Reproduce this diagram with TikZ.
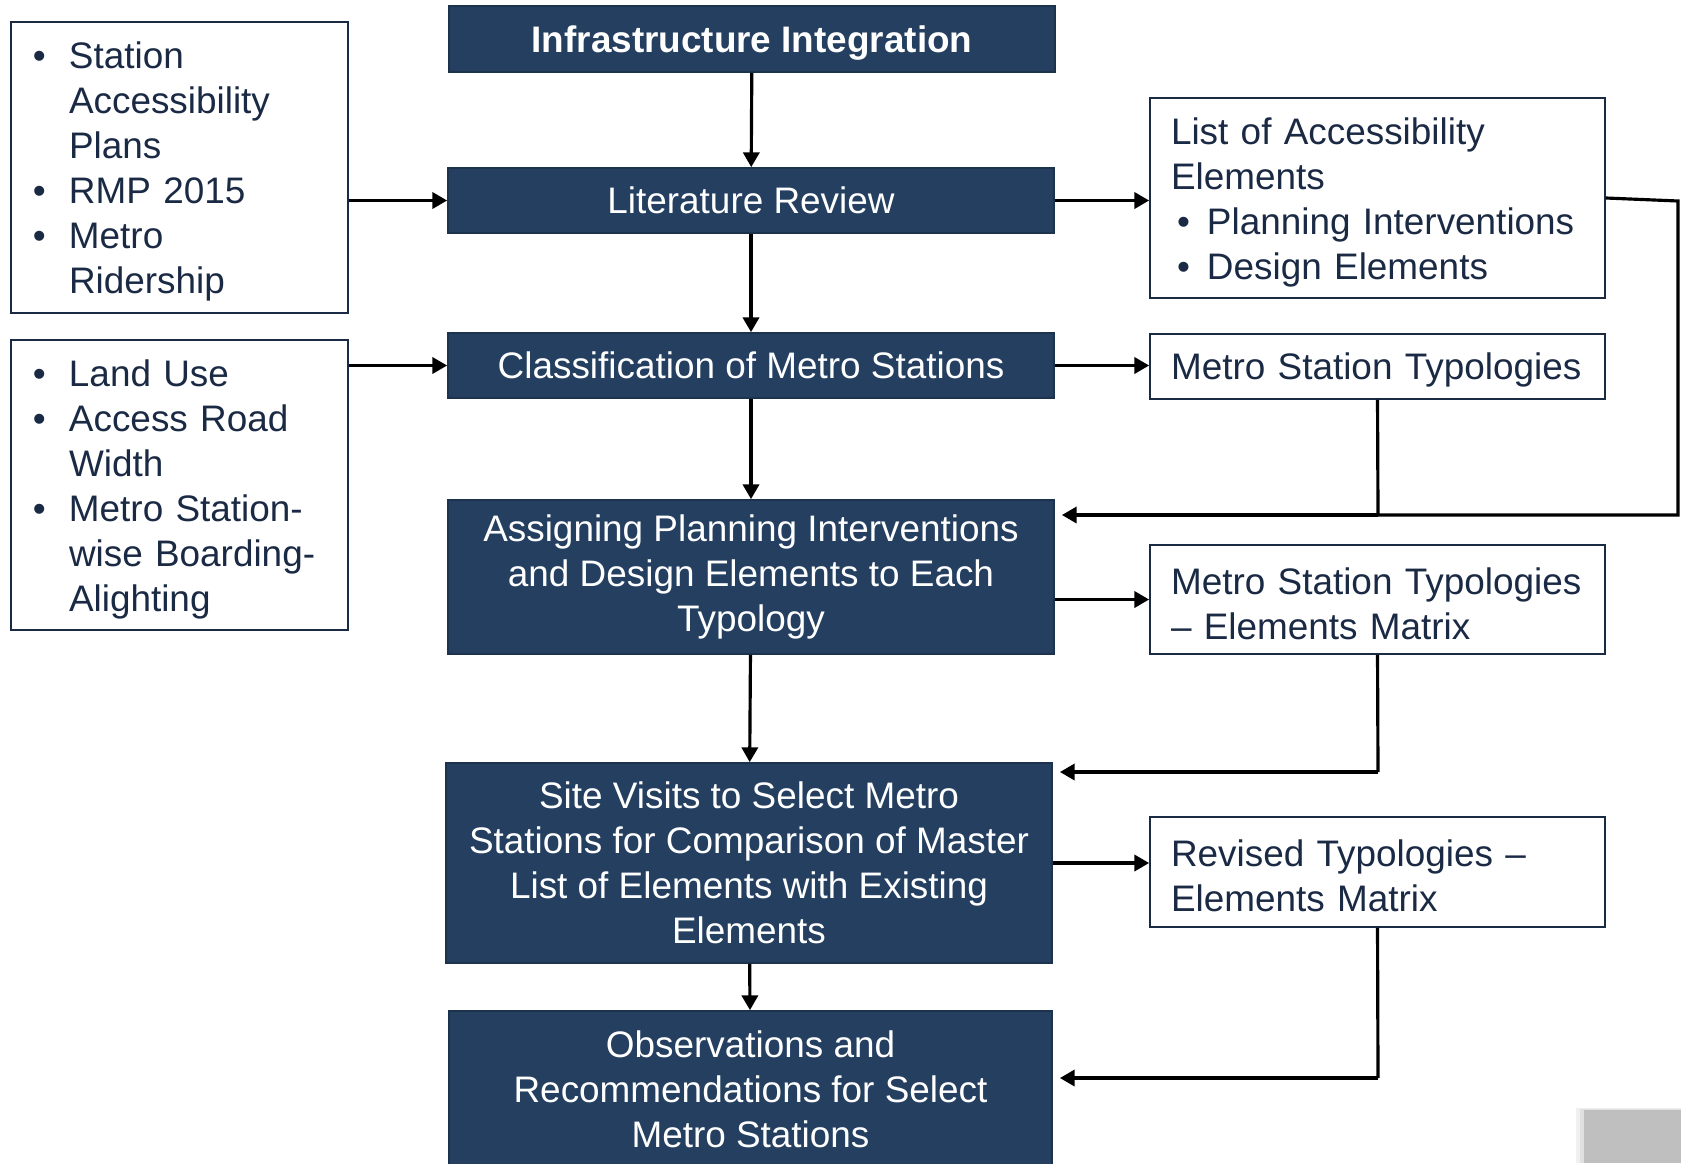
\documentclass[tikz,border=0pt]{standalone}
\usepackage{fontspec}
\setmainfont{Liberation Sans}
\usetikzlibrary{arrows.meta}
\definecolor{boxblue}{HTML}{243F60}
\definecolor{navytext}{HTML}{1B2A44}
\newcommand{\bl}{\makebox[0.36cm][l]{\textbullet}}
\newcommand{\ind}{\hspace*{0.36cm}}
\begin{document}
\begin{tikzpicture}
        \tikzset{
            proc/.style={rectangle, minimum width=6.06cm, fill=boxblue, draw=boxblue!80!black, line width=0.5pt,
                text=white, align=center, inner sep=0pt, font=\fontsize{10.5}{12.8}\selectfont},
            src/.style={rectangle, minimum width=3.37cm, text width=3.37cm-0.44cm, inner xsep=0.22cm,
                draw=navytext, line width=0.5pt, text=navytext, align=left, font=\fontsize{10.5}{12.8}\selectfont,
                execute at end node={\par\vspace*{-0.08cm}}},
            res/.style={rectangle, minimum width=4.55cm, text width=4.55cm-0.42cm, inner xsep=0.21cm,
                draw=navytext, line width=0.5pt, text=navytext, align=left, font=\fontsize{10.5}{12.8}\selectfont,
                execute at end node={\par\vspace*{-0.08cm}}},
            c1/.style={-{Triangle[length=4.2pt,width=4.6pt]}, line width=0.9pt},
            c2/.style={-, line width=0.9pt}
            }
            \useasboundingbox (0,0) rectangle (16.81,-11.63);

            % middle column
            \node[proc, minimum height=0.66cm, font=\fontsize{10.5}{12.8}\selectfont\bfseries,
                text height=0.95em, text depth=0.21em] (p1) at (7.52,-0.39) {Infrastructure Integration};
            \node[proc, minimum height=0.65cm] (p2) at (7.51,-2.005) {Literature Review};
            \node[proc, minimum height=0.65cm] (p3) at (7.51,-3.655) {Classification of Metro Stations};
            \node[proc, minimum height=1.54cm] (p4) at (7.51,-5.77) {Assigning Planning Interventions\\and Design Elements to Each\\Typology};
            \node[proc, minimum height=2.00cm] (p5) at (7.49,-8.63) {Site Visits to Select Metro\\Stations for Comparison of Master\\List of Elements with Existing\\Elements};
            \node[proc, minimum width=6.03cm, minimum height=1.56cm] (p6) at (7.505,-10.89) {Observations and\\Recommendations for Select\\Metro Stations};

            % left column
            \node[src, minimum height=2.91cm] (s1) at (1.795,-1.675) {\bl Station\\\ind Accessibility\\\ind Plans\\\bl RMP 2015\\\bl Metro\\\ind Ridership};
            \node[src, minimum height=2.90cm] (s2) at (1.795,-4.85) {\bl Land Use\\\bl Access Road\\\ind Width\\\bl Metro Station-\\\ind wise Boarding-\\\ind Alighting};

            % right column
            \node[res, minimum height=2.00cm] (r1) at (13.775,-1.98) {List of Accessibility\\Elements\\\hspace*{0.06cm}\makebox[0.30cm][l]{\textbullet}Planning Interventions\\\hspace*{0.06cm}\makebox[0.30cm][l]{\textbullet}Design Elements};
            \node[res, minimum height=0.65cm] (r2) at (13.775,-3.665) {Metro Station Typologies};
            \node[res, minimum height=1.09cm] (r3) at (13.775,-5.995) {Metro Station Typologies\\-- Elements Matrix};
            \node[res, minimum height=1.10cm] (r4) at (13.775,-8.72) {Revised Typologies --\\Elements Matrix};

            \coordinate (k1) at (16.78,-2.01);
            \coordinate (k2) at (16.78,-5.15);
            \coordinate (k3) at (13.78,-5.15);
            \coordinate (k4) at (13.78,-7.72);
            \coordinate (k5) at (13.78,-10.78);

            \draw[c1] (p1) -- (p2);
            \draw[c1] (p2) -- (p3);
            \draw[c1] (p3) -- (p4);
            \draw[c1] (p4) -- (p5);
            \draw[c1] (p5) -- (p6);

            \draw[c1] (s1.east |- p2) -- (p2.west);
            \draw[c1] (s2.east |- p3) -- (p3.west);

            \draw[c1] (p2.east) -- (p2.east -| r1.west);
            \draw[c1] (p3.east) -- (p3.east -| r2.west);
            \draw[c1] (r3.west -| p4.east) -- (r3.west);
            \draw[c1] (p5.east) -- (p5.east -| r4.west);

            \draw[c2] (r1.east) -- (k1) -- (k2) -- (k3);
            \draw[c2] (r2.south) -- (k3);
            \draw[c1, shorten >=2pt] (k3) -- (k3 -| p4.east);
            \draw[c2] (r3.south) -- (k4);
            \draw[c1, shorten >=2pt] (k4) -- (k4 -| p5.east);
            \draw[c2] (r4.south) -- (k5);
            \draw[c1, shorten >=2pt] (k5) -- (k5 -| p6.east);

            % grey corner
            \fill[black!6] (15.76,-11.08) rectangle (16.81,-11.63);
            \fill[black!12] (15.80,-11.09) rectangle (16.81,-11.63);
            \fill[black!25] (15.84,-11.10) rectangle (16.81,-11.63);
        \end{tikzpicture}
\end{document}
